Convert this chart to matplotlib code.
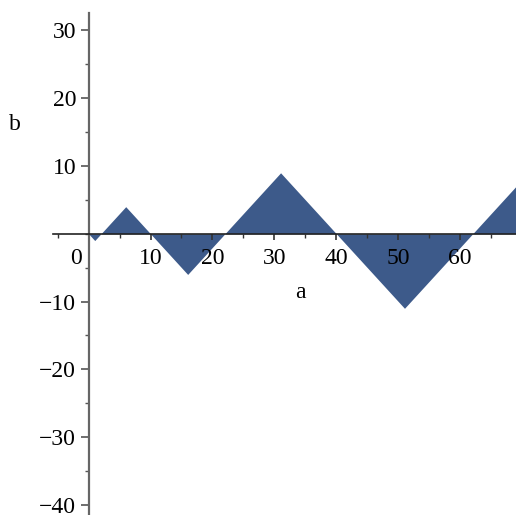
import numpy as np
import matplotlib.pyplot as plt
from matplotlib.ticker import MultipleLocator
import matplotlib.transforms as mtransforms

# turning points of the zigzag
a_vals = [0, 1, 6, 16, 31, 51, 69]
b_vals = [0, -1, 4, -6, 9, -11, 7]

x_ticks = [0, 10, 20, 30, 40, 50, 60]
y_ticks = [-40, -30, -20, -10, 10, 20, 30]

plt.rcParams['font.family'] = ['Liberation Serif', 'DejaVu Serif']
plt.rcParams['font.size'] = 17


def createPlot(ax):
    ax.fill_between(a_vals, b_vals, 0, color='#3d5a8a', lw=0)

    ax.set_xlim(-5.8, 69)
    ax.set_ylim(-41.5, 32.6)

    ax.spines['left'].set_position(('data', 0))
    ax.spines['bottom'].set_position(('data', 0))
    ax.spines['top'].set_visible(False)
    ax.spines['right'].set_visible(False)
    ax.spines['left'].set_color('#666666')
    ax.spines['left'].set_linewidth(1.6)
    ax.spines['bottom'].set_color('#222222')
    ax.spines['bottom'].set_linewidth(1.2)

    ax.set_xticks(x_ticks)
    ax.set_xticklabels([str(v) for v in x_ticks])
    ax.set_yticks(y_ticks)
    ax.set_yticklabels(['\u2212' + str(-v) if v < 0 else str(v) for v in y_ticks])
    ax.xaxis.set_minor_locator(MultipleLocator(5))
    ax.yaxis.set_minor_locator(MultipleLocator(5))

    ax.tick_params(axis='x', which='major', direction='out', length=4, width=1.2,
                   color='#333333', pad=6)
    ax.tick_params(axis='x', which='minor', direction='out', length=3, width=1,
                   color='#333333')
    ax.tick_params(axis='y', which='major', direction='out', length=6, width=1.2,
                   color='#555555', pad=3)
    ax.tick_params(axis='y', which='minor', direction='out', length=3, width=1,
                   color='#555555')

    # the "0" label sits left of the vertical axis
    lbl0 = ax.get_xticklabels()[0]
    lbl0.set_horizontalalignment('right')
    lbl0.set_transform(lbl0.get_transform() +
                       mtransforms.ScaledTranslation(-0.07, 0, ax.figure.dpi_scale_trans))

    ax.set_xlabel('a')
    ax.xaxis.set_label_coords(0.535, 0.444)
    ax.xaxis.label.set_va('center')
    ax.set_ylabel('b', rotation=0)
    ax.yaxis.set_label_coords(-0.081, 0.777)
    ax.yaxis.label.set_va('center')


if __name__ == '__main__':
    fig = plt.figure(figsize=(5.16, 5.15), dpi=100)
    ax = fig.add_axes([0.102, 0.0, 0.898, 0.975])
    createPlot(ax)
    plt.savefig('out.png', dpi=100)
